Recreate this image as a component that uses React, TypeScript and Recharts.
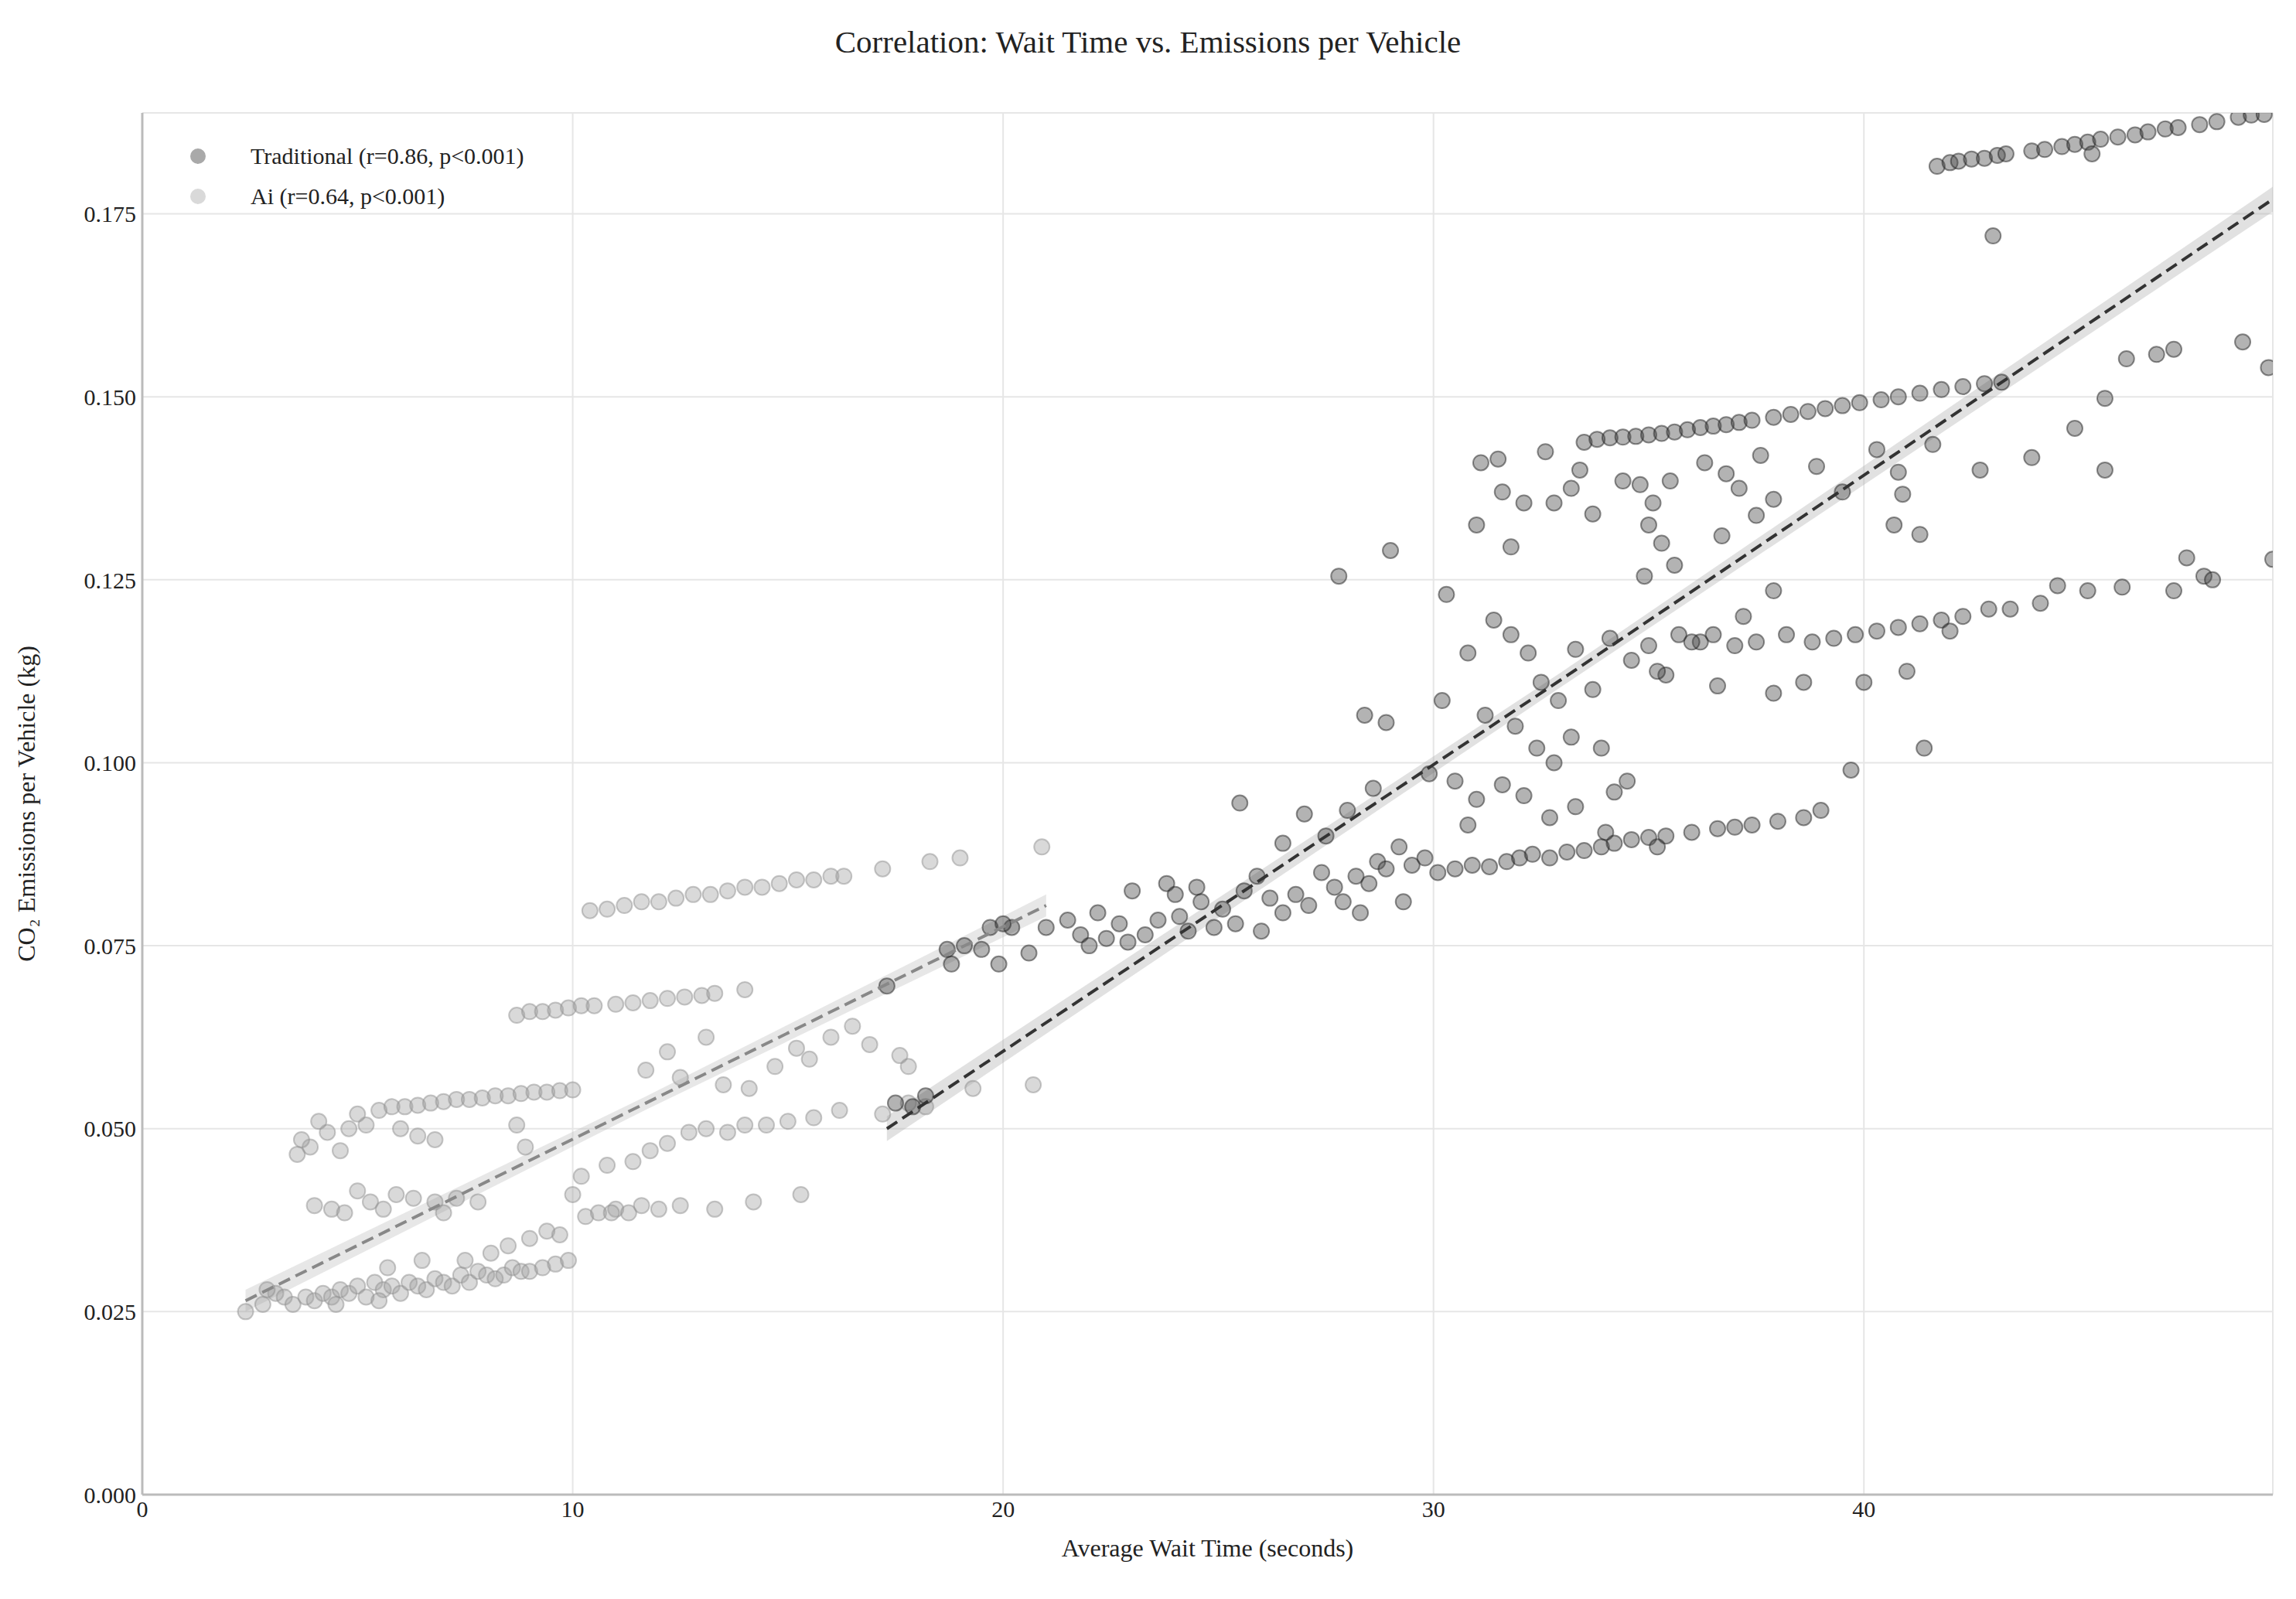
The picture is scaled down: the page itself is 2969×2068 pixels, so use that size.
import React from "react";
import {
  ComposedChart,
  Scatter,
  Area,
  XAxis,
  YAxis,
  CartesianGrid,
} from "recharts";

// Traditional signals: [wait time s, kg CO2 per vehicle]
const traditionalPoints: [number, number][] = [
  [41.7,.1815],[42.0,.182],[42.2,.1822],[42.5,.1825],[42.8,.1826],[43.1,.183],[43.3,.1832],[43.9,.1836],[44.2,.1838],[44.6,.1842],[44.9,.1845],[45.2,.1848],[45.5,.1852],[45.9,.1855],[46.3,.1858],[46.6,.1862],[47.0,.1866],[47.3,.1868],[47.8,.1872],[48.2,.1876],[48.7,.1882],[49.0,.1885],[49.3,.1886],[45.3,.1832],
  [33.5,.1438],[33.8,.1442],[34.1,.1444],[34.4,.1445],[34.7,.1446],[35.0,.1448],[35.3,.145],[35.6,.1452],[35.9,.1455],[36.2,.1458],[36.5,.146],[36.8,.1462],[37.1,.1465],[37.4,.1468],[37.9,.1472],[38.3,.1476],[38.7,.148],[39.1,.1484],[39.5,.1488],[39.9,.1492],[40.4,.1496],[40.8,.15],[41.3,.1505],[41.8,.151],[42.3,.1514],[42.8,.1518],[43.2,.152],
  [30.1,.085],[30.5,.0855],[30.9,.086],[31.3,.0858],[31.7,.0865],[32.0,.087],[32.3,.0875],[32.7,.087],[33.1,.0878],[33.5,.088],[33.9,.0885],[34.2,.089],[34.6,.0895],[35.0,.0898],[35.4,.090],[36.0,.0905],[36.6,.091],[37.0,.0912],[37.4,.0915],[38.0,.092],[38.6,.0925],[39.0,.0935],[34.0,.0905],[35.2,.0885],
  [38.8,.1165],[39.3,.117],[39.8,.1175],[40.3,.118],[40.8,.1185],[41.3,.119],[41.8,.1195],[42.3,.120],[42.9,.121],[43.4,.121],[44.1,.1218],[44.5,.1242],[45.2,.1235],[46.0,.124],[47.2,.1235],[47.5,.128],[47.9,.1255],[48.1,.125],[49.5,.1278],[42.0,.118],[40.0,.111],[41.0,.1125],[38.6,.111],[37.9,.1095],
  [43.9,.1417],[42.7,.140],[45.6,.140],[44.9,.1457],[45.6,.1498],[46.1,.1552],[46.8,.1558],[47.2,.1565],[48.8,.1575],[49.4,.154],[43.0,.172],[41.6,.1435],[41.3,.1312],[40.7,.1325],[40.8,.1397],[40.9,.1367],[40.3,.1428],[39.5,.137],[38.9,.1405],[37.6,.142],[37.9,.136],[37.5,.1338],[37.9,.1235],[41.4,.102],[39.7,.099],
  [30.3,.123],[30.8,.115],[31.0,.1325],[31.1,.141],[31.5,.1415],[31.6,.137],[31.8,.1295],[32.1,.1355],[32.6,.1425],[32.8,.1355],[33.2,.1375],[33.4,.140],[33.7,.134],[34.4,.1385],[34.8,.138],[35.1,.1355],[35.0,.1325],[35.3,.130],[35.5,.1385],[36.3,.141],[36.7,.131],[36.8,.1395],[37.1,.1375],[31.4,.1195],[31.8,.1175],[32.2,.115],[32.5,.111],[32.9,.1085],[33.3,.1155],[33.7,.110],[34.1,.117],[34.6,.114],[35.0,.116],[35.4,.112],[35.7,.1175],[36.2,.1165],[36.6,.1105],[37.0,.116],[37.5,.1165],[30.2,.1085],[31.2,.1065],[31.9,.105],[32.4,.102],[32.8,.1],[33.2,.1035],[33.9,.102],[34.5,.0975],[34.2,.096],[35.2,.1125],[36.0,.1165],[36.5,.1175],[37.2,.120],[38.2,.1175],[34.9,.1255],[35.6,.127],[30.5,.0975],[31.0,.095],[31.6,.097],[32.1,.0955],[32.7,.0925],[33.3,.094],[30.8,.0915],[29.9,.0985],[28.4,.1065],[28.9,.1055],[29.0,.129],[27.8,.1255],
  [17.5,.0535],[17.9,.053],[18.2,.0545],[18.7,.0745],[19.1,.075],[19.5,.0745],[19.9,.0725],[20.2,.0775],[20.6,.074],[21.0,.0775],[21.5,.0785],[21.8,.0765],[22.2,.0795],[22.4,.076],[22.7,.078],[22.9,.0755],[23.3,.0765],[23.6,.0785],[23.8,.0835],[24.1,.079],[24.3,.077],[24.6,.081],[24.9,.0775],[25.1,.080],[25.4,.078],[25.6,.0825],[25.9,.0845],[26.2,.0815],[26.5,.0795],[26.8,.082],[27.1,.0805],[27.4,.085],[27.7,.083],[27.9,.081],[28.2,.0845],[28.5,.0835],[28.7,.0865],[28.9,.0855],[29.2,.0885],[29.5,.086],[29.8,.087],[24.0,.082],[24.5,.083],[25.5,.0945],[26.5,.089],[27.0,.093],[27.5,.090],[28.0,.0935],[28.6,.0965],[28.3,.0795],[29.3,.081],[17.3,.0695],[18.8,.0725],[26.0,.077],[23.0,.0825],[22.0,.075],[19.7,.0775],[20.0,.078],
];

// AI signals
const aiPoints: [number, number][] = [
  [2.4,.025],[2.8,.026],[3.1,.0275],[3.3,.027],[3.5,.026],[3.8,.027],[4.0,.0265],[4.2,.0275],[4.4,.027],[4.6,.028],[4.8,.0275],[5.0,.0285],[5.2,.027],[5.4,.029],[5.6,.028],[5.8,.0285],[6.0,.0275],[6.2,.029],[6.4,.0285],[6.6,.028],[6.8,.0295],[7.0,.029],[7.2,.0285],[7.4,.030],[7.6,.029],[7.8,.0305],[8.0,.030],[8.2,.0295],[8.4,.030],[8.6,.031],[8.8,.0305],[9.0,.0305],[9.3,.031],[9.6,.0315],[9.9,.032],[5.7,.031],[6.5,.032],[7.5,.032],[8.1,.033],[8.5,.034],[9.0,.035],[9.4,.036],[4.5,.026],[5.5,.0265],
  [4.0,.0395],[4.4,.039],[4.7,.0385],[5.0,.0415],[5.3,.040],[5.6,.039],[5.9,.041],[6.3,.0405],[6.8,.040],[7.3,.0405],[3.9,.0475],[4.3,.0495],[4.6,.047],[3.6,.0465],
  [5.5,.0525],[5.8,.053],[6.1,.053],[6.4,.0532],[6.7,.0535],[7.0,.0537],[7.3,.054],[7.6,.054],[7.9,.0542],[8.2,.0545],[8.5,.0545],[8.8,.0548],[9.1,.055],[9.4,.055],[9.7,.0552],[10.0,.0553],[4.8,.050],[5.2,.0505],[5.0,.052],[6.0,.050],[6.4,.049],[6.8,.0485],[8.7,.0505],[8.9,.0475],[4.1,.051],
  [8.7,.0655],[9.0,.066],[9.3,.066],[9.6,.0662],[9.9,.0665],[10.2,.0668],[10.5,.0668],[11.0,.067],[11.4,.0672],[11.8,.0675],[12.2,.0678],[12.6,.068],[13.0,.0682],[13.3,.0685],[14.0,.069],
  [10.4,.0798],[10.8,.080],[11.2,.0805],[11.6,.081],[12.0,.081],[12.4,.0815],[12.8,.082],[13.2,.082],[13.6,.0825],[14.0,.083],[14.4,.083],[14.8,.0835],[15.2,.084],[15.6,.084],[16.0,.0845],[16.3,.0845],[17.2,.0855],[18.3,.0865],[19.0,.087],[20.9,.0885],
  [10.0,.041],[10.3,.038],[10.6,.0385],[11.0,.039],[11.3,.0385],[11.6,.0395],[12.0,.039],[12.5,.0395],[13.3,.039],[14.2,.040],[15.3,.041],[10.2,.0435],[10.8,.045],[11.4,.0455],[11.8,.047],[12.2,.048],[12.7,.0495],[13.1,.050],[13.6,.0495],[14.0,.0505],[14.5,.0505],[15.0,.051],[15.6,.0515],[16.2,.0525],[17.2,.052],[17.8,.0535],[18.2,.053],[11.7,.058],[12.2,.0605],[12.5,.057],[13.1,.0625],[13.5,.056],[14.1,.0555],[14.7,.0585],[15.2,.061],[15.5,.0595],[16.0,.0625],[16.5,.064],[16.9,.0615],[17.6,.060],[17.8,.0585],[19.3,.0555],[20.7,.056],[10.9,.0385],[9.7,.0355],[7.0,.0385],[7.8,.040],[3.7,.0485],[2.9,.028],
];

const traditionalFitX = [17.3, 33, 49.5];
const traditionalFitY = [0.05, 0.1115, 0.177];
const traditionalFitHalfWidth = [0.0017, 0.001, 0.0017];
const aiFitX = [2.4, 11.7, 21];
const aiFitY = [0.0265, 0.0535, 0.0805];
const aiFitHalfWidth = [0.0015, 0.0009, 0.0015];

const xTicks = [0, 10, 20, 30, 40];
const yTicks = [0, 0.025, 0.05, 0.075, 0.1, 0.125, 0.15, 0.175];

const toRows = (pts: [number, number][]) => pts.map(([x, y]) => ({ x, y }));
const fitRows = (xs: number[], ys: number[], hw: number[]) =>
  xs.map((x, i) => ({ x, y: ys[i], band: [ys[i] - hw[i], ys[i] + hw[i]] }));

const FONT = "'Liberation Serif', 'DejaVu Serif', serif";

const dot = (fill: string, stroke: string) => (p: any) =>
  <circle cx={p.cx} cy={p.cy} r={10} fill={fill} fillOpacity={0.4} stroke={stroke} strokeOpacity={0.5} strokeWidth={2} />;

export default function App() {
  const trad = fitRows(traditionalFitX, traditionalFitY, traditionalFitHalfWidth);
  const ai = fitRows(aiFitX, aiFitY, aiFitHalfWidth);
  const tick = { fontFamily: FONT, fontSize: 30, fill: "#222" };
  return (
    <div style={{ position: "relative", width: 2953, height: 2052, fontFamily: FONT }}>
      <div style={{ position: "absolute", top: 22, width: "100%", textAlign: "center", fontSize: 41, color: "#222" }}>
        Correlation: Wait Time vs. Emissions per Vehicle
      </div>
      <div style={{ position: "absolute", left: 220, top: 168, fontSize: 30, color: "#222", lineHeight: "52px" }}>
        <div><span style={{ display: "inline-block", width: 20, height: 20, borderRadius: 10, background: "rgba(64,64,64,0.45)", marginRight: 58, marginLeft: 18 }} />Traditional (r=0.86, p&lt;0.001)</div>
        <div><span style={{ display: "inline-block", width: 20, height: 20, borderRadius: 10, background: "rgba(160,160,160,0.4)", marginRight: 58, marginLeft: 18 }} />Ai (r=0.64, p&lt;0.001)</div>
      </div>
      <ComposedChart width={2953} height={2052} margin={{ top: 138, right: 22, bottom: 47, left: 56 }}>
        <CartesianGrid stroke="#e6e6e6" strokeWidth={2} />
        <XAxis type="number" dataKey="x" domain={[0, 49.5]} ticks={xTicks} allowDataOverflow
          tick={tick} tickLine={false} axisLine={{ stroke: "#bbb", strokeWidth: 3 }} height={80}
          label={{ value: "Average Wait Time (seconds)", position: "insideBottom", offset: 0, style: { ...tick, fontSize: 32 } }} />
        <YAxis type="number" dataKey="y" domain={[0, 0.1888]} ticks={yTicks} allowDataOverflow
          tickFormatter={(v: number) => v.toFixed(3)} tick={tick} tickLine={false}
          axisLine={{ stroke: "#bbb", strokeWidth: 3 }} width={120}
          label={{ value: "CO₂ Emissions per Vehicle (kg)", angle: -90, position: "insideLeft", offset: -30, style: { ...tick, fontSize: 32, textAnchor: "middle" } }} />
        <Area data={ai} dataKey="band" type="linear" fill="#bbb" fillOpacity={0.35} stroke="none" isAnimationActive={false} />
        <Area data={trad} dataKey="band" type="linear" fill="#aaa" fillOpacity={0.35} stroke="none" isAnimationActive={false} />
        <Scatter data={toRows(aiPoints)} shape={dot("#a0a0a0", "#909090")} isAnimationActive={false} />
        <Scatter data={toRows(traditionalPoints)} shape={dot("#404040", "#202020")} isAnimationActive={false} />
        <Scatter data={ai} line={{ stroke: "#888", strokeWidth: 4, strokeDasharray: "16 8" }} shape={() => null} isAnimationActive={false} />
        <Scatter data={trad} line={{ stroke: "#333", strokeWidth: 4, strokeDasharray: "16 8" }} shape={() => null} isAnimationActive={false} />
      </ComposedChart>
    </div>
  );
}
